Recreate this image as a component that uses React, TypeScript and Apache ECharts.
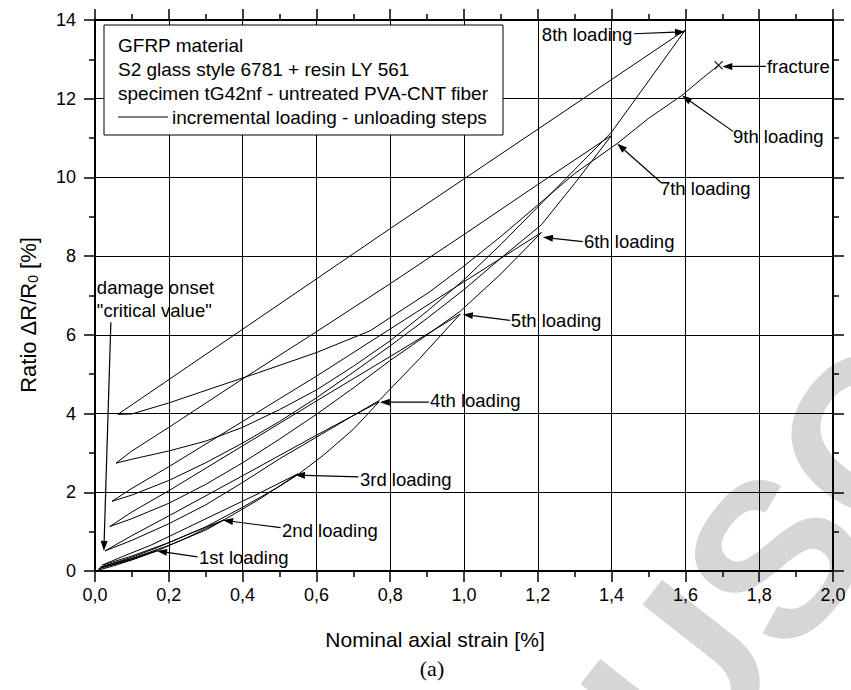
import React, { useEffect, useRef } from "react";
import * as echarts from "echarts";

// ---- data (strain %, ratio ΔR/R0 %) ----
const loading1 = [[0, 0], [0.05, 0.13], [0.1, 0.28], [0.17, 0.52]];
const unloading1 = [[0.17, 0.52], [0.1, 0.31], [0.05, 0.17], [0.01, 0.06]];
const loading2 = [[0.01, 0.06], [0.05, 0.16], [0.1, 0.29], [0.17, 0.52], [0.25, 0.85], [0.35, 1.3]];
const unloading2 = [[0.35, 1.3], [0.25, 0.92], [0.17, 0.6], [0.1, 0.35], [0.05, 0.2], [0.015, 0.1]];
const loading3 = [[0.015, 0.1], [0.1, 0.32], [0.2, 0.65], [0.3, 1.04], [0.35, 1.3], [0.45, 1.85], [0.55, 2.47]];
const unloading3 = [[0.55, 2.47], [0.45, 2.0], [0.35, 1.55], [0.25, 1.1], [0.15, 0.65], [0.07, 0.35], [0.02, 0.15]];
const loading4 = [[0.02, 0.15], [0.1, 0.38], [0.2, 0.72], [0.3, 1.12], [0.4, 1.62], [0.5, 2.15], [0.55, 2.45], [0.62, 2.95], [0.7, 3.6], [0.77, 4.3]];
const unloading4 = [[0.77, 4.3], [0.6, 3.45], [0.4, 2.42], [0.2, 1.4], [0.1, 0.9], [0.027, 0.51]];
const loading5 = [[0.027, 0.51], [0.1, 0.78], [0.2, 1.2], [0.3, 1.68], [0.4, 2.25], [0.5, 2.85], [0.6, 3.4], [0.7, 3.95], [0.77, 4.33], [0.88, 5.4], [0.99, 6.53]];
const unloading5 = [[0.99, 6.53], [0.8, 5.45], [0.6, 4.32], [0.4, 3.18], [0.2, 2.04], [0.1, 1.5], [0.04, 1.13]];
const loading6 = [[0.04, 1.13], [0.1, 1.33], [0.2, 1.72], [0.3, 2.2], [0.4, 2.75], [0.5, 3.35], [0.6, 3.98], [0.7, 4.65], [0.8, 5.35], [0.9, 6.0], [0.99, 6.6], [1.1, 7.55], [1.21, 8.6]];
const unloading6 = [[1.21, 8.6], [1.0, 7.35], [0.8, 6.15], [0.6, 4.95], [0.4, 3.8], [0.2, 2.65], [0.1, 2.1], [0.046, 1.77]];
const loading7 = [[0.046, 1.77], [0.1, 1.93], [0.2, 2.3], [0.3, 2.75], [0.4, 3.25], [0.5, 3.8], [0.6, 4.4], [0.7, 5.05], [0.8, 5.72], [0.9, 6.42], [1.0, 7.15], [1.1, 7.95], [1.21, 8.8], [1.3, 9.85], [1.4, 11.07]];
const unloading7 = [[1.4, 11.07], [1.2, 9.82], [1.0, 8.55], [0.8, 7.3], [0.6, 6.08], [0.4, 4.88], [0.2, 3.65], [0.1, 3.05], [0.057, 2.74]];
const loading8 = [[0.057, 2.74], [0.1, 2.84], [0.2, 3.05], [0.3, 3.3], [0.4, 3.65], [0.5, 4.1], [0.6, 4.6], [0.7, 5.2], [0.8, 5.85], [0.9, 6.6], [1.0, 7.4], [1.1, 8.3], [1.2, 9.25], [1.3, 10.2], [1.4, 11.15], [1.5, 12.45], [1.6, 13.75]];
const unloading8 = [[1.6, 13.75], [0.8, 8.7], [0.062, 3.98]];
const loading9 = [[0.062, 3.98], [0.1, 3.99], [0.2, 4.27], [0.285, 4.54], [0.44, 5.03], [0.6, 5.55], [0.745, 6.1], [0.908, 7.1], [1.0, 7.75], [1.1, 8.5], [1.2, 9.3], [1.3, 10.1], [1.415, 10.86], [1.5, 11.5], [1.59, 12.08], [1.65, 12.55], [1.69, 12.85]];
const fracturePoint = [[1.69, 12.85]];

const segments = [
  loading1, unloading1, loading2, unloading2, loading3, unloading3,
  loading4, unloading4, loading5, unloading5, loading6, unloading6,
  loading7, unloading7, loading8, unloading8, loading9,
];

const legendLines = [
  "GFRP material",
  "S2 glass style 6781 + resin LY 561",
  "specimen tG42nf - untreated PVA-CNT fiber",
  "incremental loading - unloading steps",
];

// annotation: label, text anchor (left-middle), arrow tail, arrow tip (data coords)
const annotations = [
  { text: "1st loading", at: [0.282, 0.34], tail: [0.278, 0.36], tip: [0.168, 0.51] },
  { text: "2nd loading", at: [0.507, 1.02], tail: [0.503, 1.1], tip: [0.347, 1.29] },
  { text: "3rd loading", at: [0.718, 2.33], tail: [0.714, 2.39], tip: [0.542, 2.44] },
  { text: "4th loading", at: [0.908, 4.34], tail: [0.905, 4.29], tip: [0.772, 4.29] },
  { text: "5th loading", at: [1.127, 6.37], tail: [1.125, 6.37], tip: [0.997, 6.52] },
  { text: "6th loading", at: [1.325, 8.38], tail: [1.322, 8.37], tip: [1.214, 8.48] },
  { text: "7th loading", at: [1.531, 9.72], tail: [1.534, 9.87], tip: [1.415, 10.86] },
  { text: "8th loading", at: [1.211, 13.63], tail: [1.46, 13.65], tip: [1.599, 13.7] },
  { text: "9th loading", at: [1.729, 11.04], tail: [1.729, 11.17], tip: [1.591, 12.08] },
  { text: "fracture", at: [1.821, 12.82], tail: [1.818, 12.82], tip: [1.70, 12.82] },
];
const damageText = ["damage onset", "\"critical value\""];
const damageTextAt = [[0.005, 7.21], [0.005, 6.62]];
const damageLine = { tail: [0.043, 6.32], tip: [0.024, 0.51] };
const watermarkText = "MANUSCRIPT";

const FONT = "'Liberation Sans', Arial, Helvetica, sans-serif";

export default function App() {
  const ref = useRef<HTMLDivElement>(null);

  useEffect(() => {
    const chart = echarts.init(ref.current!, null, { renderer: "svg" });
    const axisCommon = {
      type: "value",
      axisLine: { show: true, onZero: false, lineStyle: { color: "#000", width: 2 } },
      axisTick: { show: true, length: 11, lineStyle: { color: "#000", width: 1.5 } },
      minorTick: { show: true, splitNumber: 2, length: 6, lineStyle: { color: "#000", width: 1.5 } },
    };
    const option: any = {
      animation: false,
      backgroundColor: "#fff",
      grid: { left: 95, right: 18, top: 20, bottom: 119 },
      xAxis: [
        {
          ...axisCommon,
          min: 0, max: 2, interval: 0.2, position: "bottom",
          splitLine: { show: true, lineStyle: { color: "#000", width: 1 } },
          axisLabel: {
            color: "#000", fontSize: 18, fontFamily: FONT, margin: 15,
            formatter: (v: number) => v.toFixed(1).replace(".", ","),
          },
        },
        {
          ...axisCommon,
          min: 0, max: 2, interval: 0.2, position: "top",
          splitLine: { show: false }, axisLabel: { show: false },
        },
      ],
      yAxis: [
        {
          ...axisCommon,
          min: 0, max: 14, interval: 2, position: "left",
          splitLine: { show: true, lineStyle: { color: "#000", width: 1 } },
          axisLabel: { color: "#000", fontSize: 18, fontFamily: FONT, margin: 19 },
        },
        {
          ...axisCommon,
          min: 0, max: 14, interval: 2, position: "right",
          splitLine: { show: false }, axisLabel: { show: false },
        },
      ],
      series: [
        ...segments.map((seg) => ({
          type: "line",
          data: seg,
          xAxisIndex: 0,
          yAxisIndex: 0,
          symbol: "none",
          silent: true,
          z: 3,
          lineStyle: { color: "#000", width: 1 },
        })),
        {
          type: "scatter",
          data: fracturePoint,
          symbol: "path://M0,0L10,10M10,0L0,10",
          symbolSize: 8,
          silent: true,
          z: 4,
          itemStyle: { color: "none", borderColor: "#000", borderWidth: 1.3 },
        },
      ],
    };
    chart.setOption(option);

    const px = (p: number[]) => chart.convertToPixel({ gridIndex: 0 }, p) as number[];
    const graphics: any[] = [];

    // light watermark behind everything
    graphics.push({
      type: "text", z: -10, x: 775, y: 558, rotation: (52 * Math.PI) / 180, silent: true,
      style: {
        text: watermarkText, font: `bold 220px ${FONT}`, fill: "#d6d6d6",
        textAlign: "center", textVerticalAlign: "middle",
      },
    });

    const arrow = (tailD: number[], tipD: number[]) => {
      const a = px(tailD);
      const b = px(tipD);
      const dx = b[0] - a[0];
      const dy = b[1] - a[1];
      const len = Math.hypot(dx, dy) || 1;
      const ux = dx / len;
      const uy = dy / len;
      const L = 10;
      const W = 3.5;
      const bx = b[0] - ux * L;
      const by = b[1] - uy * L;
      graphics.push({
        type: "line", z: 20,
        shape: { x1: a[0], y1: a[1], x2: bx, y2: by },
        style: { stroke: "#000", lineWidth: 1.2 },
      });
      graphics.push({
        type: "polygon", z: 20,
        shape: { points: [[b[0], b[1]], [bx - uy * W, by + ux * W], [bx + uy * W, by - ux * W]] },
        style: { fill: "#000" },
      });
    };
    annotations.forEach((an) => {
      const p = px(an.at);
      graphics.push({
        type: "text", z: 20, x: p[0], y: p[1],
        style: { text: an.text, font: `18.5px ${FONT}`, fill: "#000", textAlign: "left", textVerticalAlign: "middle" },
      });
      arrow(an.tail, an.tip);
    });
    damageText.forEach((t, i) => {
      const p = px(damageTextAt[i]);
      graphics.push({
        type: "text", z: 20, x: p[0], y: p[1],
        style: { text: t, font: `18.5px ${FONT}`, fill: "#000", textAlign: "left", textVerticalAlign: "middle" },
      });
    });
    arrow(damageLine.tail, damageLine.tip);

    // legend box
    graphics.push({
      type: "rect", z: 30,
      shape: { x: 104, y: 25, width: 399, height: 110 },
      style: { fill: "#fff", stroke: "#000", lineWidth: 1 },
    });
    legendLines.forEach((t, i) => {
      const isLast = i === legendLines.length - 1;
      graphics.push({
        type: "text", z: 31, x: isLast ? 172 : 118, y: 45 + i * 24,
        style: { text: t, font: `19px ${FONT}`, fill: "#000", textAlign: "left", textVerticalAlign: "middle" },
      });
    });
    graphics.push({
      type: "line", z: 31,
      shape: { x1: 118, y1: 117, x2: 168, y2: 117 },
      style: { stroke: "#000", lineWidth: 1 },
    });

    // axis titles
    graphics.push({
      type: "text", z: 20, x: 28, y: 315, rotation: Math.PI / 2,
      style: {
        text: "{a|Ratio ΔR/R}{s|0}{a| [%]}",
        rich: {
          a: { fontSize: 22, fontFamily: FONT, fill: "#000", lineHeight: 28 },
          s: { fontSize: 14, fontFamily: FONT, fill: "#000", lineHeight: 28, padding: [10, 0, 0, 0] },
        },
        textAlign: "center", textVerticalAlign: "middle",
      },
    });
    graphics.push({
      type: "text", z: 20, x: 435, y: 639,
      style: { text: "Nominal axial strain [%]", font: `21px ${FONT}`, fill: "#000", textAlign: "center", textVerticalAlign: "middle" },
    });
    graphics.push({
      type: "text", z: 20, x: 432, y: 668,
      style: { text: "(a)", font: `22px 'Liberation Serif', 'Times New Roman', serif`, fill: "#000", textAlign: "center", textVerticalAlign: "middle" },
    });

    chart.setOption({ graphic: graphics });
    return () => chart.dispose();
  }, []);

  return <div ref={ref} style={{ width: 851, height: 690, position: "absolute", left: 0, top: 0 }} />;
}
